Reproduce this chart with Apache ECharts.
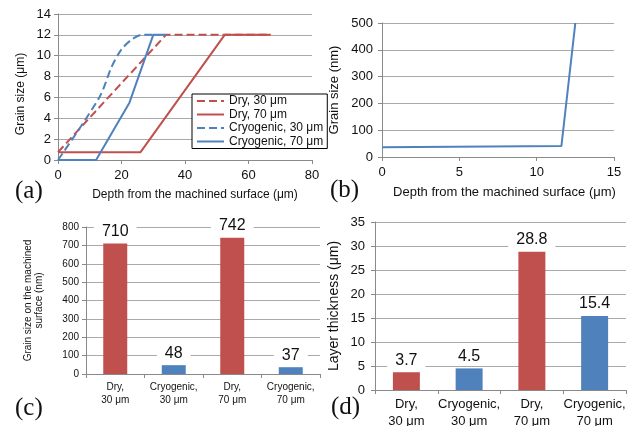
<!DOCTYPE html>
<html><head><meta charset="utf-8">
<script src="https://cdn.jsdelivr.net/npm/echarts@6/dist/echarts.min.js"></script>
<style>html,body{margin:0;padding:0;background:#fff}#c{width:634px;height:426px}</style>
</head><body><div id="c"></div>
<script>
// ---- Panel (a): grain size vs depth ----
const dry30Depth = [0, 34, 67];
const dry30Grain = [0.75, 12, 12];
const dry70Depth = [0, 26, 52.5, 67];
const dry70Grain = [0.75, 0.75, 12, 12];
const cryo30Depth = [0, 13, 17, 20, 23, 26.5, 30];
const cryo30Grain = [0, 6, 9, 10.6, 11.5, 12, 12];
const cryo70Depth = [0, 12, 22.5, 30, 34];
const cryo70Grain = [0, 0, 5.5, 12, 12];
const seriesNamesA = ['Dry, 30 μm', 'Dry, 70 μm', 'Cryogenic, 30 μm', 'Cryogenic, 70 μm'];
// ---- Panel (b): near-surface detail ----
const nearDepth = [0, 11.6, 12.5];
const nearGrain = [36, 41, 500];
// ---- Panels (c), (d) ----
const conditions = ['Dry,\n30 μm', 'Cryogenic,\n30 μm', 'Dry,\n70 μm', 'Cryogenic,\n70 μm'];
const surfaceGrain = [710, 48, 742, 37];
const layerThickness = [3.7, 4.5, 28.8, 15.4];
const panelLetters = ['(a)', '(b)', '(c)', '(d)'];

const RED = '#C0504D', BLUE = '#4F81BD';
const AXIS = '#8a8a8a', GRID = '#a9a9a9', TXT = '#111';
const FONT = '"Liberation Sans", Arial, sans-serif';
const zip = (xs, ys) => xs.map((x, i) => [x, ys[i]]);

function valAxis(o) {
  return Object.assign({
    type: 'value',
    axisLine: { show: true, lineStyle: { color: AXIS, width: 1 } },
    axisTick: { show: true, length: 4, inside: false, lineStyle: { color: AXIS } },
    splitLine: { show: false },
    axisLabel: { color: TXT, fontSize: 13, fontFamily: FONT, margin: 8 },
    nameLocation: 'middle',
    nameTextStyle: { color: TXT, fontSize: 12, fontFamily: FONT }
  }, o);
}
const split = { show: true, lineStyle: { color: GRID, width: 1 } };

const chart = echarts.init(document.getElementById('c'), null, { renderer: 'canvas' });
const barColor = p => (p.dataIndex % 2 === 0 ? RED : BLUE);
const barLabel = {
  show: true, position: 'top', distance: 3, fontSize: 16, color: TXT, fontFamily: FONT,
  backgroundColor: '#fff', padding: [1, 8]
};

chart.setOption({
  animation: false,
  backgroundColor: '#fff',
  textStyle: { fontFamily: FONT },
  grid: [
    { left: 58, top: 14, width: 254, height: 146, containLabel: false, outerBoundsMode: 'none' },
    { left: 382, top: 23, width: 232, height: 134, containLabel: false, outerBoundsMode: 'none' },
    { left: 86, top: 227, width: 234, height: 147, containLabel: false, outerBoundsMode: 'none' },
    { left: 375, top: 222, width: 251, height: 168, containLabel: false, outerBoundsMode: 'none' }
  ],
  xAxis: [
    valAxis({ gridIndex: 0, min: 0, max: 80, interval: 20,
      axisLabel: { color: TXT, fontSize: 13, fontFamily: FONT, margin: 9 },
      name: 'Depth from the machined surface (μm)', nameGap: 29,
      nameTextStyle: { color: TXT, fontSize: 12, fontFamily: FONT, padding: [0, 0, 0, 20] } }),
    valAxis({ gridIndex: 1, min: 0, max: 15, interval: 5,
      axisLabel: { color: TXT, fontSize: 13, fontFamily: FONT, margin: 9 },
      name: 'Depth from the machined surface (μm)', nameGap: 29,
      nameTextStyle: { color: TXT, fontSize: 13, fontFamily: FONT, padding: [0, 0, 0, 13] } }),
    { type: 'category', gridIndex: 2, data: conditions,
      axisLine: { show: true, lineStyle: { color: AXIS } },
      axisTick: { show: true, length: 4, alignWithLabel: false, lineStyle: { color: AXIS } },
      axisLabel: { interval: 0, color: TXT, fontSize: 10, lineHeight: 13, fontFamily: FONT, margin: 7 } },
    { type: 'category', gridIndex: 3, data: conditions,
      axisLine: { show: true, lineStyle: { color: AXIS } },
      axisTick: { show: true, length: 4, alignWithLabel: false, lineStyle: { color: AXIS } },
      axisLabel: { interval: 0, color: TXT, fontSize: 13, lineHeight: 17, fontFamily: FONT, margin: 6 } }
  ],
  yAxis: [
    valAxis({ gridIndex: 0, min: 0, max: 14, interval: 2, splitLine: split,
      axisLabel: { color: TXT, fontSize: 13, fontFamily: FONT, margin: 7 },
      name: 'Grain size (μm)', nameGap: 31,
      nameTextStyle: { color: TXT, fontSize: 12, fontFamily: FONT, padding: [0, 14, 0, 0] } }),
    valAxis({ gridIndex: 1, min: 0, max: 500, interval: 100, splitLine: split,
      axisLabel: { color: TXT, fontSize: 13, fontFamily: FONT, margin: 9 },
      name: 'Grain size (nm)', nameGap: 41,
      nameTextStyle: { color: TXT, fontSize: 13, fontFamily: FONT } }),
    valAxis({ gridIndex: 2, min: 0, max: 800, interval: 100, splitLine: split,
      axisLabel: { color: TXT, fontSize: 10, fontFamily: FONT, margin: 7 },
      name: 'Grain size on the machined\nsurface (nm)', nameGap: 41,
      nameTextStyle: { color: TXT, fontSize: 10, lineHeight: 11, fontFamily: FONT } }),
    valAxis({ gridIndex: 3, min: 0, max: 35, interval: 5, splitLine: split,
      axisLabel: { color: TXT, fontSize: 13, fontFamily: FONT, margin: 10 },
      name: 'Layer thickness (μm)', nameGap: 34,
      nameTextStyle: { color: TXT, fontSize: 14, fontFamily: FONT } })
  ],
  legend: {
    data: seriesNamesA, orient: 'vertical', left: 192, top: 94,
    itemWidth: 27, itemHeight: 12, itemGap: 1.5, itemTextGap: 3,
    padding: [1, 4, 1, 4], borderColor: '#000', borderWidth: 1, backgroundColor: '#fff',
    itemStyle: { opacity: 0 },
    textStyle: { color: TXT, fontSize: 12, fontFamily: FONT }
  },
  series: [
    { name: seriesNamesA[0], type: 'line', xAxisIndex: 0, yAxisIndex: 0, symbol: 'none',
      data: zip(dry30Depth, dry30Grain), color: RED, lineStyle: { color: RED, width: 2, type: [8, 4] } },
    { name: seriesNamesA[1], type: 'line', xAxisIndex: 0, yAxisIndex: 0, symbol: 'none',
      data: zip(dry70Depth, dry70Grain), color: RED, lineStyle: { color: RED, width: 2 } },
    { name: seriesNamesA[2], type: 'line', xAxisIndex: 0, yAxisIndex: 0, symbol: 'none', smooth: 0.3,
      data: zip(cryo30Depth, cryo30Grain), color: BLUE, lineStyle: { color: BLUE, width: 2, type: [8, 4] } },
    { name: seriesNamesA[3], type: 'line', xAxisIndex: 0, yAxisIndex: 0, symbol: 'none',
      data: zip(cryo70Depth, cryo70Grain), color: BLUE, lineStyle: { color: BLUE, width: 2 } },
    { name: 'Cryogenic, 70 μm (near surface)', type: 'line', xAxisIndex: 1, yAxisIndex: 1, symbol: 'none',
      data: zip(nearDepth, nearGrain), color: BLUE, lineStyle: { color: BLUE, width: 2 } },
    { name: 'Surface grain size', type: 'bar', xAxisIndex: 2, yAxisIndex: 2, barWidth: '41%',
      data: surfaceGrain, itemStyle: { color: barColor }, label: barLabel },
    { name: 'Layer thickness', type: 'bar', xAxisIndex: 3, yAxisIndex: 3, barWidth: '43%',
      data: layerThickness, itemStyle: { color: barColor }, label: barLabel }
  ],
  graphic: [
    [15, 193], [330, 192], [15, 410], [331, 409]
  ].map((p, i) => ({
    type: 'text', left: p[0], top: p[1] - 14,
    style: { text: panelLetters[i], fontSize: 25, fontFamily: '"Liberation Serif", "Times New Roman", serif', fill: TXT }
  }))
});
</script></body></html>
